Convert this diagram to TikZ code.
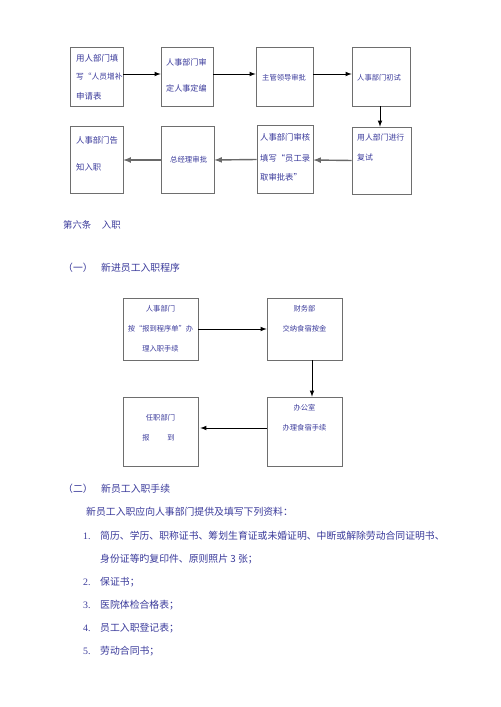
\documentclass[tikz,border=0pt]{standalone}
\usepackage{fontspec}
\setmainfont{Liberation Serif}
\newfontfamily\cjk{Noto Sans CJK SC}
\usetikzlibrary{calc}
\usetikzlibrary{arrows,positioning}

\definecolor{txtblue}{RGB}{58,58,155}
\definecolor{boxgray}{RGB}{110,110,110}
\definecolor{arrgray}{RGB}{105,105,105}

\tikzset{
  flowbox/.style={rectangle,draw=boxgray,line width=0.6pt,inner sep=0pt},
  boxtext/.style={inner sep=0pt,text=txtblue,font=\cjk\fontsize{#1}{8}\selectfont},
  boxtext/.default=6.8,
  bodytext/.style={inner sep=0pt,anchor=west,text=txtblue,font=\cjk\fontsize{8.4}{10}\selectfont},
  numtext/.style={inner sep=0pt,anchor=west,text=txtblue,font=\fontsize{8.4}{10}\selectfont},
}

\begin{document}
\begin{tikzpicture}[x=0.03cm,y=-0.03cm]

\useasboundingbox[fill=white] (0,0) rectangle (500,707);

%first flow chart, row 1
\node[flowbox,minimum width=1.59cm,minimum height=1.77cm] at (96.5,76.5) (fillreq) {};
\node[flowbox,minimum width=1.56cm,minimum height=1.77cm] at (187,76.5) (hrcheck) {};
\node[flowbox,minimum width=1.71cm,minimum height=1.77cm] at (284.5,76.5) (leader) {};
\node[flowbox,minimum width=1.74cm,minimum height=1.77cm] at (381,76.5) (firsttest) {};

\node[boxtext=7.2,anchor=west] at (76,58) (fillreqA) {用人部门填};
\node[boxtext=6.6,anchor=west] at (76,77) (fillreqB) {写“人员增补};
\node[boxtext=7.2,anchor=west] at (76,96) (fillreqC) {申请表};
\node[boxtext=6.9,anchor=west] at (166,62) (hrcheckA) {人事部门审};
\node[boxtext=6.9,anchor=west] at (166,88) (hrcheckB) {定人事定编};
\node[boxtext=6.2,anchor=west] at (262,78) (leaderA) {主管领导审批};
\node[boxtext=6.2,anchor=west] at (357,78) (firsttestA) {人事部门初试};

%first flow chart, row 2
\node[flowbox,minimum width=1.59cm,minimum height=2.01cm] at (96.5,160) (notify) {};
\node[flowbox,minimum width=1.59cm,minimum height=2.01cm] at (187.5,160) (manager) {};
\node[flowbox,minimum width=1.68cm,minimum height=2.04cm] at (285,159.5) (hrreview) {};
\node[flowbox,minimum width=1.77cm,minimum height=2.01cm] at (381.5,160.5) (retest) {};

\node[boxtext=7.1,anchor=west] at (76,140) (notifyA) {人事部门告};
\node[boxtext=7.1,anchor=west] at (76,167) (notifyB) {知入职};
\node[boxtext=6.3,anchor=west] at (170,160) (managerA) {总经理审批};
\node[boxtext=7.1,anchor=west] at (260,137) (hrreviewA) {人事部门审核};
\node[boxtext=7.1,anchor=west] at (260,158) (hrreviewB) {填写“员工录};
\node[boxtext=7.1,anchor=west] at (260,177) (hrreviewC) {取审批表”};
\node[boxtext=6.7,anchor=west] at (357,138) (retestA) {用人部门进行};
\node[boxtext=6.7,anchor=west] at (357,158) (retestB) {复试};

\draw[-latex,line width=0.8pt] ($(fillreq.east)+(0,-2.5)$) -- ($(hrcheck.west)+(0,-2.5)$);
\draw[-latex,line width=0.8pt] ($(hrcheck.east)+(0,-2.5)$) -- ($(leader.west)+(0,-2.5)$);
\draw[-latex,line width=0.8pt] ($(leader.east)+(0,-2.5)$) -- ($(firsttest.west)+(0,-2.5)$);
\draw[-latex,line width=0.8pt] ($(firsttest.south)+(-1,0)$) -- ($(retest.north)+(-1.5,0)$);
\draw[-latex,line width=1.2pt,arrgray] (retest.west) -- ($(hrreview.east)+(0,0.5)$);
\draw[-latex,line width=1.2pt,arrgray] (hrreview.west) -- (manager.east);
\draw[-latex,line width=1.2pt,arrgray] (manager.west) -- (notify.east);

%headings
\node[bodytext,font=\cjk\fontsize{8}{10}\selectfont] at (63,225) (art6) {第六条\hspace{9pt}入职};
\node[bodytext] at (63,268) (partone) {（一）};
\node[bodytext] at (101,268) (partoneT) {新进员工入职程序};

%second flow chart
\node[flowbox,minimum width=2.25cm,minimum height=1.86cm] at (160.5,329) (hrentry) {};
\node[flowbox,minimum width=2.25cm,minimum height=1.86cm] at (304.5,329) (finance) {};
\node[flowbox,minimum width=2.25cm,minimum height=2.07cm] at (304.5,431.5) (office) {};
\node[flowbox,minimum width=2.25cm,minimum height=2.07cm] at (160.5,431.5) (dept) {};

\node[boxtext=6.2] at (160.5,309) (hrentryA) {人事部门};
\node[boxtext=6.2] at (160.5,329) (hrentryB) {按“报到程序单”办};
\node[boxtext=6.2] at (160.5,349) (hrentryC) {理入职手续};
\node[boxtext=6.2] at (304.5,309) (financeA) {财务部};
\node[boxtext=6.2] at (304.5,329) (financeB) {交纳食宿按金};
\node[boxtext=6.2] at (304.5,408) (officeA) {办公室};
\node[boxtext=6.2] at (304.5,428) (officeB) {办理食宿手续};
\node[boxtext=6.2] at (160.5,418) (deptA) {任职部门};
\node[boxtext=6.2] at (158.5,438) (deptB) {报\hspace{15pt}到};

\draw[-latex,line width=0.8pt] (hrentry.east) -- (finance.west);
\draw[-latex,line width=0.8pt] ($(finance.south)+(7.5,0)$) -- ($(office.north)+(7.5,0)$);
\draw[-latex,line width=0.8pt] ($(office.west)+(0,-3.5)$) -- ($(dept.east)+(2,-3.5)$);

%second part, list
\node[bodytext] at (63,489) (parttwo) {（二）};
\node[bodytext] at (101,489) (parttwoT) {新员工入职手续};
\node[bodytext] at (86,512) (intro) {新员工入职应向人事部门提供及填写下列资料：};

\node[numtext] at (83,536) (numA) {1.};
\node[bodytext] at (100,536) (itemA) {简历、学历、职称证书、筹划生育证或未婚证明、中断或解除劳动合同证明书、};
\node[bodytext] at (100,559) (itemAB) {身份证等旳复印件、原则照片 3 张；};
\node[numtext] at (83,582) (numB) {2.};
\node[bodytext] at (100,582) (itemB) {保证书；};
\node[numtext] at (83,605) (numC) {3.};
\node[bodytext] at (100,605) (itemC) {医院体检合格表；};
\node[numtext] at (83,628) (numD) {4.};
\node[bodytext] at (100,628) (itemD) {员工入职登记表；};
\node[numtext] at (83,651) (numE) {5.};
\node[bodytext] at (100,651) (itemE) {劳动合同书；};

\end{tikzpicture}
\end{document}
